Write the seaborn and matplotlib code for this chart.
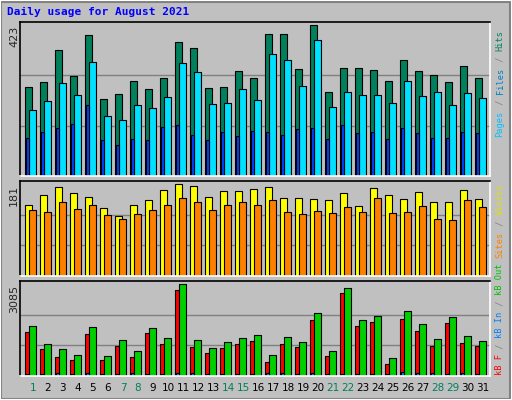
import matplotlib
matplotlib.use("Agg")
import matplotlib.pyplot as plt
import seaborn as sns
from matplotlib.patches import Rectangle

days = list(range(1, 32))
weekend = [1, 7, 8, 14, 15, 21, 22, 28, 29]

hits = [250, 264, 352, 279, 394, 216, 230, 267, 244, 273, 374, 357, 247, 250, 293, 273,
        397, 397, 299, 423, 235, 302, 302, 296, 267, 325, 293, 282, 264, 308, 273]
files = [184, 209, 259, 227, 319, 169, 158, 198, 189, 221, 316, 290, 201, 204, 244, 212,
         342, 325, 253, 382, 192, 235, 227, 227, 204, 267, 224, 235, 198, 233, 218]
pages = [106, 123, 135, 146, 198, 100, 86, 103, 100, 137, 143, 114, 100, 123, 111, 126,
         123, 114, 132, 135, 103, 143, 120, 123, 103, 135, 120, 106, 106, 123, 120]
visits = [139, 159, 175, 163, 155, 134, 118, 139, 149, 169, 181, 177, 155, 167, 167, 171,
          175, 153, 153, 151, 149, 163, 138, 173, 159, 151, 165, 145, 145, 169, 151]
sites = [130, 126, 145, 132, 139, 120, 112, 122, 130, 139, 153, 145, 130, 139, 145, 139,
         149, 126, 122, 128, 124, 136, 126, 153, 124, 126, 138, 112, 110, 149, 136]
kb_out = [1695, 1085, 915, 712, 1661, 678, 1220, 848, 1627, 1288, 3085, 1220, 949, 1153, 1288, 1390,
          712, 1322, 1153, 2136, 848, 2949, 1898, 2034, 610, 2204, 1763, 1254, 2000, 1356, 1187]
kb_f = [1492, 915, 644, 542, 1424, 542, 1017, 644, 1458, 1085, 2882, 983, 780, 949, 1085, 1187,
        475, 1085, 983, 1898, 678, 2780, 1695, 1831, 407, 1932, 1526, 1017, 1797, 1119, 1017]
kb_in = [80, 70, 110, 70, 110, 70, 80, 110, 80, 80, 110, 110, 80, 80, 80, 80,
         110, 110, 80, 110, 80, 80, 80, 80, 80, 140, 110, 110, 80, 110, 80]

sns.set_style("white")
BG = "#C0C0C0"
MONO = "DejaVu Sans Mono"
W, H = 512, 400
fig = plt.figure(figsize=(W / 100, H / 100), dpi=100, facecolor=BG)

# outer 3d border
fig.patches.append(Rectangle((1 / W, 1 / H), 509 / W, 397 / H, transform=fig.transFigure,
                             fill=False, edgecolor="#808080", lw=1.5))
fig.patches.append(Rectangle((0, 0), 1, 1, transform=fig.transFigure,
                             fill=False, edgecolor="white", lw=1.5))

x0 = 20
xr = 490
step = 15.0
first = 25


def make_ax(top, bottom, ymax, maxval):
    ax = fig.add_axes([x0 / W, 1 - bottom / H, (xr - x0) / W, (bottom - top) / H])
    ax.set_facecolor(BG)
    ax.set_xlim((x0 - first) / step, (xr - first) / step)
    ax.set_ylim(0, ymax)
    for g in (maxval / 3, 2 * maxval / 3):
        ax.axhline(g, color="#808080", lw=1, zorder=0)
    ax.set_xticks([])
    ax.set_yticks([])
    for s in ("top", "left"):
        ax.spines[s].set_color("black")
    for s in ("bottom", "right"):
        ax.spines[s].set_color("white")
    for s in ax.spines.values():
        s.set_linewidth(1.2)
    ytop = top + (bottom - top) * (1 - maxval / ymax)
    fig.text(14 / W, 1 - (ytop + 1) / H, f"{maxval}", rotation=90,
             ha="center", va="top", fontsize=8, family="DejaVu Sans")
    return ax


def bars(ax, vals, off, width, color):
    xs = [d - 1 + off for d in days]
    ax.bar(xs, vals, width=width, align="edge", color=color, edgecolor="black", lw=0.8)


ax1 = make_ax(22, 176, 431, 423)
bars(ax1, hits, 0.0, 0.49, "#00805C")
bars(ax1, files, 0.27, 0.49, "#00E0FF")
bars(ax1, pages, 0.09, 0.17, "#0040FF")

ax2 = make_ax(181, 276, 187, 181)
bars(ax2, visits, 0.0, 0.49, "#FFFF00")
bars(ax2, sites, 0.27, 0.49, "#FF8000")

ax3 = make_ax(281, 376, 3197, 3085)
bars(ax3, kb_f, 0.0, 0.49, "#FF0000")
bars(ax3, kb_out, 0.27, 0.49, "#00D000")
bars(ax3, kb_in, 0.09, 0.17, "#0080FF")

# day labels
for d in days:
    ax3.text(d - 1 + 0.53, -0.13, str(d), transform=ax3.get_xaxis_transform(), ha="center",
             va="center", fontsize=7.5, family="DejaVu Sans",
             color="#00805C" if d in weekend else "black")

fig.text(7 / W, 1 - 12 / H, "Daily usage for August 2021", color="#0000FF", fontsize=8,
         fontweight="bold", family=MONO, va="center")

# right side multicolour rotated labels
CH = 5.35


def side_label(parts, ybottom):
    y = ybottom
    for txt, col in parts:
        fig.text(500 / W, 1 - y / H, txt, rotation=90, color=col, fontsize=6.2,
                 family=MONO, ha="center", va="bottom")
        y -= CH * len(txt)


side_label([("Pages", "#00C0FF"), (" / ", "#808080"), ("Files", "#0080C0"),
            (" / ", "#808080"), ("Hits", "#00805C")], 137)
side_label([("Sites", "#FF8000"), (" / ", "#808080"), ("Visits", "#E0E000")], 258)
side_label([("kB F", "#FF0000"), (" / ", "#808080"), ("kB In", "#0080FF"),
            (" / ", "#808080"), ("kB Out", "#00C000")], 375)

fig.savefig("out.png", dpi=100, facecolor=BG)
